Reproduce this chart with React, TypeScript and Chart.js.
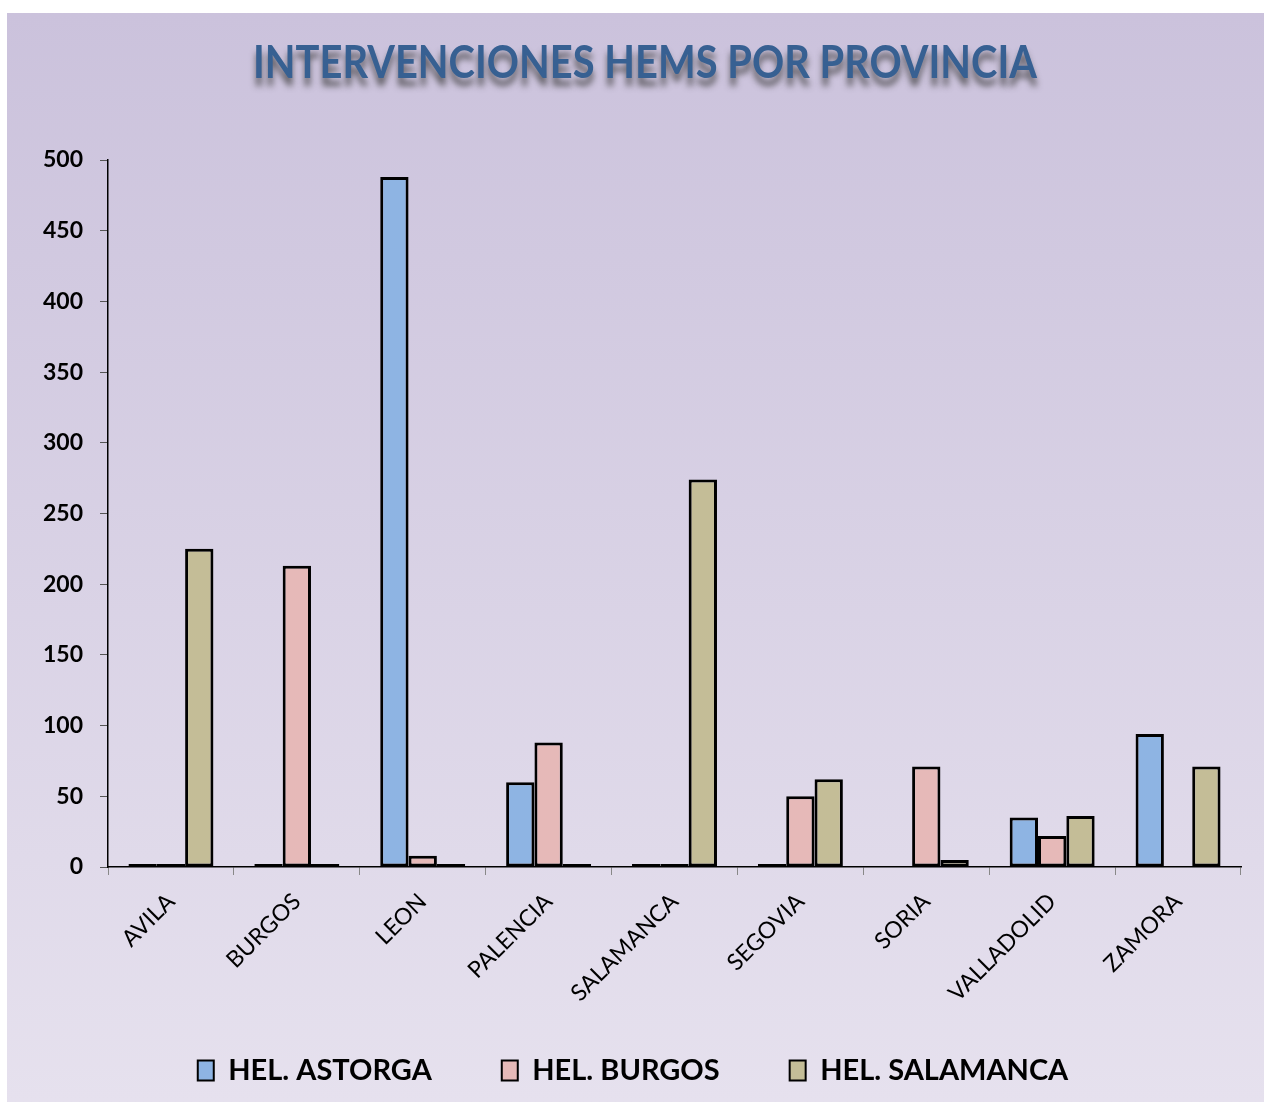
import React, { useEffect, useRef } from "react";
import { Chart, registerables } from "chart.js";

Chart.register(...registerables);

const TITLE = "INTERVENCIONES HEMS POR PROVINCIA";
const categories = ["AVILA", "BURGOS", "LEON", "PALENCIA", "SALAMANCA", "SEGOVIA", "SORIA", "VALLADOLID", "ZAMORA"];
const astorga = [0, 0, 488, 60, 1, 0, null, 35, 94];
const burgos = [2, 213, 8, 88, 0, 50, 71, 22, null];
const salamanca = [225, 0, 1, 0, 274, 62, 5, 36, 71];
const seriesNames = ["HEL. ASTORGA", "HEL. BURGOS", "HEL. SALAMANCA"];
const seriesColors = ["#8eb4e3", "#e6b9b8", "#c4bd97"];
const yTicks = { min: 0, max: 500, step: 50 };

const FONT = "Lato, 'Open Sans', sans-serif";

const bgPlugin = {
  id: "bgGradient",
  beforeDraw(chart: any) {
    const { ctx, width, height } = chart;
    const g = ctx.createLinearGradient(0, 0, 0, height);
    g.addColorStop(0, "#cbc2dc");
    g.addColorStop(1, "#e6e1ee");
    ctx.save();
    ctx.fillStyle = g;
    ctx.fillRect(0, 0, width, height);
    ctx.restore();
  },
};

const legendShift = {
  id: "legendShift",
  afterLayout(chart: any) {
    const lg = chart.legend;
    if (lg) {
      lg.left += 9;
      lg.right += 9;
      lg.top -= 21;
      lg.bottom -= 21;
    }
  },
};

const titlePlugin = {
  id: "shadowTitle",
  afterDraw(chart: any) {
    const { ctx } = chart;
    ctx.save();
    ctx.font = `bold 46px ${FONT}`;
    const w = ctx.measureText(TITLE).width;
    const target = 784;
    const sx = target / w;
    ctx.translate(638, 65);
    ctx.scale(sx, 1);
    ctx.textAlign = "center";
    ctx.textBaseline = "alphabetic";
    ctx.shadowColor = "rgba(60,60,60,0.75)";
    ctx.shadowBlur = 6;
    ctx.shadowOffsetX = 0;
    ctx.shadowOffsetY = 8;
    ctx.fillStyle = "#376092";
    ctx.fillText(TITLE, 0, 0);
    ctx.restore();
  },
};

export default function App() {
  const ref = useRef<HTMLCanvasElement>(null);
  useEffect(() => {
    if (!ref.current) return;
    const datasets = [astorga, burgos, salamanca].map((d, i) => ({
      label: seriesNames[i],
      data: d,
      backgroundColor: seriesColors[i],
      borderColor: "#000",
      borderWidth: 3,
      borderSkipped: false as any,
      minBarLength: 3,
      barPercentage: 1,
      categoryPercentage: 0.675,
    }));
    const chart = new Chart(ref.current, {
      type: "bar",
      data: { labels: categories, datasets },
      plugins: [bgPlugin, titlePlugin, legendShift],
      options: {
        animation: false,
        responsive: true,
        maintainAspectRatio: false,
        layout: { padding: { top: 147, left: 0, right: 23, bottom: -14 } },
        plugins: {
          title: { display: false },
          tooltip: { enabled: false },
          legend: {
            position: "bottom",
            labels: {
              color: "#000",
              font: { family: FONT, size: 29, weight: "bold" },
              boxWidth: 16,
              boxHeight: 20,
              padding: 70,
              generateLabels: (chart: any) =>
                chart.data.datasets.map((ds: any, i: number) => ({
                  text: ds.label,
                  fillStyle: ds.backgroundColor,
                  strokeStyle: "#000",
                  lineWidth: 2,
                  datasetIndex: i,
                  hidden: false,
                })),
            },
          },
        },
        scales: {
          x: {
            offset: true,
            grid: { display: true, offset: true, drawOnChartArea: false, drawTicks: true, tickLength: 8, color: "#888" },
            border: { display: true, color: "#000", width: 1.5 },
            ticks: {
              color: "#000",
              font: { family: FONT, size: 23 },
              minRotation: 45,
              maxRotation: 45,
              padding: 13,
            },
            afterFit: (scale: any) => {
              scale.height = 140;
            },
          },
          y: {
            min: yTicks.min,
            max: yTicks.max,
            grid: { display: true, drawOnChartArea: false, drawTicks: true, tickLength: 8, color: "#555" },
            border: { display: true, color: "#000", width: 1.5 },
            ticks: {
              stepSize: yTicks.step,
              color: "#000",
              font: { family: FONT, size: 23, weight: "bold" },
              padding: 17,
            },
            afterFit: (scale: any) => {
              scale.width = 101;
            },
          },
        },
      },
    });
    return () => chart.destroy();
  }, []);
  return (
    <div style={{ position: "fixed", left: 7, top: 13, width: 1257, height: 1089 }}>
      <canvas ref={ref} />
    </div>
  );
}
